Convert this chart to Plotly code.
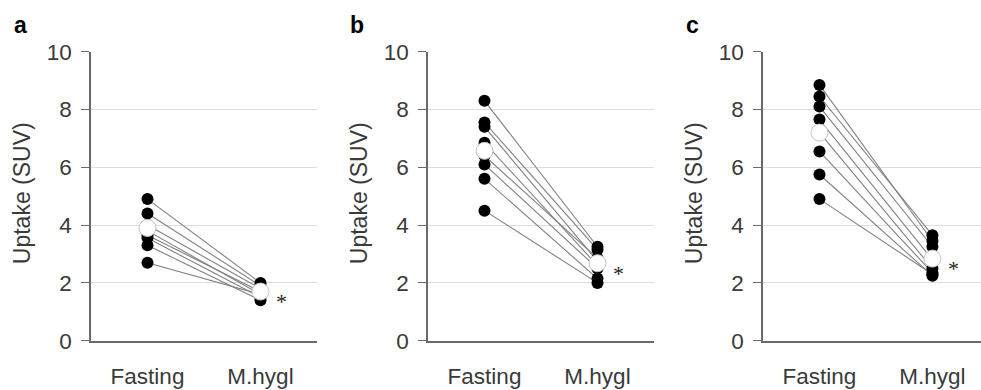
import plotly.graph_objects as go

# ---- data ----
categories = ["Fasting", "M.hygl"]
panel_labels = ["a", "b", "c"]
y_ticks = [0, 2, 4, 6, 8, 10]
y_title = "Uptake (SUV)"
sig_mark = "*"

a_fasting = [4.9, 4.4, 4.0, 3.8, 3.65, 3.55, 3.3, 2.7]
a_mhygl = [2.0, 1.9, 1.8, 1.6, 1.7, 1.5, 1.4, 1.6]
a_mean = [3.9, 1.7]

b_fasting = [8.3, 7.55, 7.4, 6.85, 6.4, 6.1, 5.6, 4.5]
b_mhygl = [3.25, 3.15, 2.75, 2.6, 2.85, 2.5, 2.15, 2.0]
b_mean = [6.57, 2.68]

c_fasting = [8.85, 8.45, 8.1, 7.65, 7.2, 6.55, 5.75, 4.9]
c_mhygl = [3.45, 3.65, 3.25, 2.8, 2.5, 2.35, 2.25, 2.3]
c_mean = [7.2, 2.84]

panels = [(a_fasting, a_mhygl, a_mean), (b_fasting, b_mhygl, b_mean), (c_fasting, c_mhygl, c_mean)]

# ---- layout geometry (pixels) ----
W, H = 981, 390
x_domains_px = [(91, 317), (428, 654), (763, 981)]
x_ranges = [[-0.5, 1.5], [-0.5, 1.5], [-0.5, 1.43]]
y_domain = [1 - 340.7 / H, 1 - 51.7 / H]

FONT = "Liberation Sans, Arial, sans-serif"
TXT = "#3a3a3a"
AXIS = "#6a6a6a"

fig = go.Figure()
for i, (fast, mh, mean) in enumerate(panels):
    xa = "x" if i == 0 else f"x{i+1}"
    ya = "y" if i == 0 else f"y{i+1}"
    for f, m in zip(fast, mh):
        fig.add_trace(go.Scatter(x=categories, y=[f, m], mode="lines",
                                 line=dict(color="#808080", width=1.1),
                                 xaxis=xa, yaxis=ya, showlegend=False, hoverinfo="skip"))
    fig.add_trace(go.Scatter(x=[categories[0]] * len(fast) + [categories[1]] * len(mh),
                             y=fast + mh, mode="markers",
                             marker=dict(color="black", size=12, line=dict(width=0)),
                             xaxis=xa, yaxis=ya, showlegend=False))
    fig.add_trace(go.Scatter(x=categories, y=mean, mode="markers",
                             marker=dict(color="white", size=17, line=dict(color="#c4c4c4", width=1)),
                             xaxis=xa, yaxis=ya, showlegend=False))

    sfx = "" if i == 0 else str(i + 1)
    d0, d1 = x_domains_px[i]
    fig.layout["xaxis" + sfx] = dict(
        domain=[d0 / W, d1 / W], anchor=ya, type="category",
        categoryorder="array", categoryarray=categories, range=x_ranges[i],
        showgrid=False, zeroline=False, showline=True, linecolor=AXIS, linewidth=1.5,
        ticks="outside", ticklen=15, tickcolor="rgba(0,0,0,0)",
        tickfont=dict(family=FONT, size=22.5, color=TXT), automargin=False)
    fig.layout["yaxis" + sfx] = dict(
        domain=y_domain, anchor=xa, range=[0, 10], tickvals=y_ticks,
        showgrid=True, gridcolor="#dddddd", gridwidth=1, zeroline=False,
        showline=True, linecolor=AXIS, linewidth=1.5,
        ticks="outside", ticklen=8, tickcolor=AXIS, tickwidth=1.2,
        ticklabelstandoff=5,
        tickfont=dict(family=FONT, size=22.5, color=TXT), automargin=False)

    # y title
    fig.add_annotation(text=y_title, textangle=-90, showarrow=False,
                       xref=f"{xa} domain", yref=f"{ya} domain", x=0, y=0.5,
                       xanchor="center", yanchor="middle", xshift=-69, yshift=3,
                       font=dict(family=FONT, size=23, color=TXT))
    # panel label
    fig.add_annotation(text=f"<b>{panel_labels[i]}</b>", showarrow=False,
                       xref=f"{xa} domain", yref=f"{ya} domain", x=0, y=1,
                       xanchor="center", yanchor="middle", xshift=-71, yshift=27,
                       font=dict(family=FONT, size=23, color="black"))
    # significance asterisk
    fig.add_annotation(text=sig_mark, showarrow=False, xref=xa, yref=ya,
                       x=categories[1], y=mean[1], xanchor="center", yanchor="middle",
                       xshift=21, yshift=-10,
                       font=dict(family="Liberation Serif, Times New Roman, serif", size=22, color="#222"))

fig.update_layout(width=W, height=H, margin=dict(l=0, r=0, t=0, b=0),
                  paper_bgcolor="white", plot_bgcolor="white", template="none",
                  showlegend=False)
fig.write_html("out.html", config={"displayModeBar": False},
               post_script="document.body.style.margin='0';document.body.style.padding='0';document.body.style.overflow='hidden';")
